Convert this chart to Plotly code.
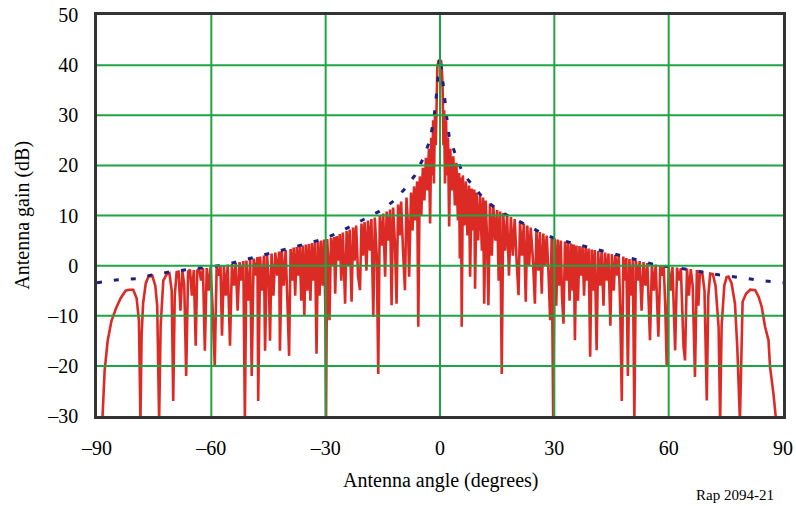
import plotly.graph_objects as go

# ---------------- data ----------------
x_ticks = [-90, -60, -30, 0, 30, 60, 90]
x_tick_text = ["\u201390", "\u201360", "\u201330", "0", "30", "60", "90"]
y_ticks = [-30, -20, -10, 0, 10, 20, 30, 40, 50]
y_tick_text = ["\u201330", "\u201320", "\u201310", "0", "10", "20", "30", "40", "50"]

# blue dashed envelope (angle in degrees, gain in dB)
blue_angle = [-90, -89.2, -84.4, -79.8, -75.2, -70.4, -65.6, -60.8, -56.9, -52.0,
              -47.7, -42.9, -38.8, -34.3, -30.2, -26.1, -22.3, -18.8, -15.5, -11.8,
              -9.4, -6.6, -4.4, -2.6, -1.6, -1.0, -0.5, 0, 0.5, 1.1,
              1.8, 2.4, 4.4, 6.0, 8.9, 11.4, 15.0, 19.1, 22.8, 26.4,
              30.2, 34.3, 38.5, 42.9, 47.7, 52.3, 56.9, 61.7, 66.3, 70.9,
              75.4, 80.0, 84.7, 89.5, 90]
blue_gain = [-3.4, -3.3, -2.8, -2.6, -1.8, -1.2, -0.7, -0.2, 0.1, 1.0,
             1.9, 2.8, 3.6, 4.6, 5.4, 6.8, 8.3, 9.6, 11.0, 13.1,
             15.2, 18.0, 21.4, 25.1, 29.4, 33.6, 38.5, 41.8, 38.5, 33.6,
             29.4, 25.8, 21.4, 18.4, 15.8, 13.4, 11.2, 9.4, 8.1, 6.6,
             5.4, 4.6, 3.7, 2.8, 1.9, 1.0, 0.1, -0.4, -0.9, -1.6,
             -2.1, -2.6, -3.0, -3.4, -3.4]

# red antenna pattern, (angle, gain) samples by region
red_outer_left = [(-88.6, -31), (-88.0, -21), (-87.2, -15), (-86.2, -11), (-85.0, -8.5),
                  (-83.8, -6.5), (-82.5, -5.0), (-81.5, -4.8), (-80.5, -4.8), (-79.6, -6.5),
                  (-79.0, -11), (-78.6, -31), (-78.3, -14), (-77.9, -7.5), (-77.2, -3.5),
                  (-76.5, -2.2), (-75.5, -2.0), (-74.7, -4), (-74.2, -8), (-73.7, -31),
                  (-73.3, -12), (-72.6, -3), (-71.8, -1.8), (-71.0, -1.5), (-70.4, -5),
                  (-70.0, -27), (-69.6, -6), (-69.1, -1.3), (-68.6, -1.2), (-68.1, -9),
                  (-67.6, -1.0), (-67.1, -4), (-66.6, -22), (-66.1, -1.2), (-65.6, -0.8),
                  (-65.1, -6), (-64.6, -0.9), (-64.1, -16), (-63.7, -1.0), (-63.2, -0.6),
                  (-62.7, -3), (-62.2, -0.5), (-61.7, -17), (-61.2, -0.5), (-60.7, -5),
                  (-60.2, -0.3), (-59.7, -8), (-59.1, -20), (-58.6, -0.2), (-58.1, -2),
                  (-57.6, -0.1), (-57.2, -14), (-56.7, 0.0), (-56.2, -6), (-55.7, 0.2),
                  (-55.1, -16), (-54.6, 0.3), (-54.1, -4), (-53.6, 0.5), (-53.1, -9),
                  (-52.6, 0.7), (-52.1, -3)]

red_mid_left = [(-51.6, 0.9), (-51.2, -31), (-50.8, 1.0), (-50.3, -7), (-49.8, 1.2),
                (-49.4, -22), (-48.9, 1.4), (-48.4, -2), (-47.9, 1.7), (-47.7, -27),
                (-47.2, 1.8), (-46.7, -5), (-46.2, 2.0), (-45.9, -17), (-45.4, 2.2),
                (-44.9, -3), (-44.6, -15), (-44.2, 2.4), (-43.7, -6), (-43.2, 2.6),
                (-42.7, -2), (-42.2, 2.8), (-42.0, -17), (-41.5, 2.9), (-41.0, -4),
                (-40.5, 3.1), (-40.0, -8), (-39.6, -18), (-39.2, 3.3), (-38.8, -3),
                (-38.4, 3.6), (-38.0, -6), (-37.6, 3.7), (-37.2, -2), (-36.8, 3.8),
                (-36.4, -7), (-36.0, 4.0), (-35.6, -10), (-35.2, 4.2), (-34.8, -5),
                (-34.4, 4.3), (-34.0, -7), (-33.6, 4.5), (-33.2, -3), (-32.8, 4.7),
                (-32.4, -17.6), (-32.0, 4.8), (-31.6, -6), (-31.2, 5.0), (-30.8, -4),
                (-30.4, 5.2), (-30.1, -8), (-29.9, -31)]

red_center = [(-29.6, 5.3), (-29.2, -1), (-29.0, -10.9), (-28.6, 5.5), (-28.2, 0),
              (-27.8, 5.7), (-27.5, -5.6), (-27.1, 5.9), (-26.7, 1), (-26.3, 6.3),
              (-25.9, -3), (-25.5, 6.6), (-24.9, -7.6), (-24.5, 6.9), (-24.1, 0),
              (-23.7, 7.2), (-23.2, -7.2), (-22.8, 7.6), (-22.4, 1), (-22.0, 8.0),
              (-21.5, -2), (-21.0, -4.9), (-20.6, 8.4), (-20.2, 2), (-19.8, 8.7),
              (-19.3, -1), (-18.9, 9.0), (-18.4, 3), (-18.0, 9.3), (-17.5, -10.2),
              (-17.1, 9.6), (-16.6, 2), (-16.2, -21.6), (-15.8, 10.0), (-15.3, 4),
              (-14.9, 10.4), (-14.4, -2.2), (-14.0, 10.8), (-13.5, 5), (-13.1, 11.2),
              (-12.7, -7.9), (-12.3, 11.6), (-11.8, 4), (-11.4, -7.6), (-11.0, 12.2),
              (-10.6, 6), (-10.2, 12.8), (-9.7, 3), (-9.2, -4.9), (-8.8, 13.6),
              (-8.4, 8), (-8.1, -2.2), (-7.6, 14.6), (-7.2, 7), (-6.8, 15.8),
              (-6.4, 9), (-6.0, 16.8), (-5.7, -12.2), (-5.3, 17.8), (-4.9, 10),
              (-4.5, 19.5), (-4.1, 13), (-3.7, 21.5), (-3.3, 15), (-2.9, 23.3),
              (-2.6, 8.4), (-2.3, 25.5), (-2.0, 18), (-1.8, 29.0), (-1.6, 16.4),
              (-1.3, 31), (-1.1, 24), (-0.9, 36), (-0.7, 39.5), (-0.4, 40.8),
              (0.0, 41.0), (0.3, 40.8), (0.5, 39), (0.7, 35), (0.9, 24),
              (1.1, 31), (1.3, 16.4), (1.6, 29.0), (1.8, 18), (2.1, 25.5),
              (2.4, 7.8), (2.7, 23.3), (3.1, 15), (3.5, 21.8), (3.9, 12),
              (4.3, 20.5), (4.7, 9), (5.0, 18.5), (5.2, 1.4), (5.5, 17.6),
              (5.7, -12.2), (6.0, 18.0), (6.4, 8), (6.8, 16.8), (7.2, 6),
              (7.6, 16.0), (7.9, -2.2), (8.3, 15.4), (8.7, 7), (9.0, 15.2),
              (9.2, -4.6), (9.6, 14.6), (10.0, 5), (10.5, 14.0), (11.0, 3),
              (11.3, 13.6), (11.6, -7.6), (12.0, 13.0), (12.4, 4), (12.7, -7.9),
              (13.1, 12.4), (13.6, 2), (14.0, 11.8), (14.5, 5), (15.0, 11.1),
              (15.4, -3), (15.8, 10.8), (16.2, -21.6), (16.6, 10.5), (17.1, 3),
              (17.6, 10.1), (18.1, -2), (18.6, 9.7), (19.1, 2), (19.6, 9.3),
              (20.1, 1), (20.6, -5.9), (21.0, 8.8), (21.5, 2), (22.0, 8.4),
              (22.5, -7.2), (22.9, 8.0), (23.4, 0), (23.8, 7.6), (24.4, 1),
              (24.9, -7.6), (25.3, 7.0), (25.8, -1), (26.2, 6.7), (26.7, -5.6),
              (27.1, 6.4), (27.6, 0), (28.0, 6.0), (28.5, -2), (28.9, -10.9),
              (29.3, 5.6), (29.7, -31)]

red_mid_right = [(30.1, 5.4), (30.5, -8), (30.9, 5.2), (31.3, -4), (31.7, 5.0),
                 (32.0, -6), (32.4, -11.6), (32.8, 4.8), (33.2, -3), (33.6, 4.6),
                 (34.0, -7), (34.4, 4.4), (34.8, -5), (35.1, 4.2), (35.4, -14.9),
                 (35.8, 4.0), (36.2, -7), (36.6, 3.9), (37.0, -2), (37.4, 3.8),
                 (37.8, -6), (38.2, 3.6), (38.6, -3), (39.0, 3.4), (39.4, -18.2),
                 (39.8, 3.2), (40.2, -5), (40.6, 3.1), (41.1, -16.9), (41.5, 2.9),
                 (42.0, -4), (42.4, 2.8), (42.9, -8), (43.3, 2.6), (43.8, -3),
                 (44.2, 2.4), (44.7, -12), (45.1, 2.3), (45.6, -5), (46.0, 2.1),
                 (46.5, -2), (46.9, 1.9), (47.3, -9), (47.7, -27), (48.1, 1.8),
                 (48.5, -3), (48.9, 1.5), (49.3, -22), (49.7, 1.3), (50.2, -6),
                 (50.6, 1.1), (51.0, -31)]

red_outer_right = [(51.4, 1.0), (51.9, -3), (52.4, 0.9), (52.9, -9), (53.4, 0.7),
                   (53.9, -4), (54.4, 0.5), (55.1, -14.9), (55.6, 0.3), (56.1, -5),
                   (56.6, 0.2), (57.3, -14.2), (57.8, 0.1), (58.3, -2), (58.7, 0.0),
                   (59.1, -8), (59.5, -20.2), (60.0, -0.2), (60.5, -5), (61.0, -0.3),
                   (61.7, -16.9), (62.2, -0.4), (62.7, -3), (63.2, -0.5), (63.9, -16.2),
                   (64.3, -18.9), (64.8, -0.6), (65.3, -6), (65.8, -0.7), (66.3, -4),
                   (66.9, -22.2), (67.4, -0.9), (67.8, -8), (68.2, -1.2), (68.8, -1.3),
                   (69.4, -5), (70.0, -26.9), (70.4, -6), (70.9, -1.6), (71.6, -1.7),
                   (72.3, -4), (73.1, -12.2), (73.5, -31), (73.9, -12), (74.6, -4),
                   (75.2, -2.3), (75.7, -2.2), (76.5, -3.5), (77.4, -7.6), (78.0, -16.2),
                   (78.7, -31), (79.2, -10.2), (79.4, -7.2), (80.3, -5.6), (81.4, -4.8),
                   (82.7, -4.9), (83.6, -6.2), (84.4, -8.2), (85.3, -12.2), (86.2, -14.9),
                   (86.6, -20.2), (87.5, -25.6), (88.2, -31)]

# ---------------- figure ----------------
red_points = red_outer_left + red_mid_left + red_center + red_mid_right + red_outer_right
red_angle = [p[0] for p in red_points]
red_gain = [p[1] for p in red_points]

SERIF = "Liberation Serif, Times New Roman, serif"
GRID = "#1fa444"

fig = go.Figure()
fig.add_trace(go.Scatter(x=red_angle, y=red_gain, mode="lines",
                         line=dict(color="#dc2b25", width=2.6),
                         showlegend=False, hoverinfo="skip"))
fig.add_trace(go.Scatter(x=blue_angle, y=blue_gain, mode="lines",
                         line=dict(color="#1f1f80", width=3, dash="5px,12px"),
                         showlegend=False, hoverinfo="skip"))

# grid lines drawn above the traces, as in the reference
shapes = []
for v in x_ticks[1:-1]:
    shapes.append(dict(type="line", xref="x", yref="y", x0=v, x1=v,
                       y0=y_ticks[0], y1=y_ticks[-1], layer="above",
                       line=dict(color=GRID, width=2)))
for v in y_ticks[1:-1]:
    shapes.append(dict(type="line", xref="x", yref="y", y0=v, y1=v,
                       x0=x_ticks[0], x1=x_ticks[-1], layer="above",
                       line=dict(color=GRID, width=2)))

fig.update_layout(
    width=796, height=506,
    margin=dict(l=97, r=13, t=15, b=90, autoexpand=False),
    paper_bgcolor="white", plot_bgcolor="white",
    shapes=shapes,
    xaxis=dict(range=[-90, 90], tickvals=x_ticks, ticktext=x_tick_text,
               showgrid=False, zeroline=False, showline=True, mirror=True,
               linecolor="#333333", linewidth=2.5, ticks="", automargin=False,
               ticklabelstandoff=12,
               tickfont=dict(family=SERIF, size=20, color="black")),
    yaxis=dict(range=[-30, 50], tickvals=y_ticks, ticktext=y_tick_text,
               showgrid=False, zeroline=False, showline=True, mirror=True,
               linecolor="#333333", linewidth=2.5, ticks="", automargin=False,
               ticklabelstandoff=12,
               tickfont=dict(family=SERIF, size=20, color="black")),
    annotations=[
        dict(text="Antenna angle (degrees)", xref="paper", yref="paper",
             x=0.5, y=-0.162, xanchor="center", yanchor="middle", showarrow=False,
             font=dict(family=SERIF, size=20, color="black")),
        dict(text="Antenna gain (dB)", xref="paper", yref="paper",
             x=-0.109, y=0.5, xanchor="center", yanchor="middle", showarrow=False,
             textangle=-90, font=dict(family=SERIF, size=20, color="black")),
        dict(text="Rap 2094-21", xref="paper", yref="paper",
             x=0.93, y=-0.197, xanchor="center", yanchor="middle", showarrow=False,
             font=dict(family=SERIF, size=15, color="black")),
    ],
)

fig.write_html("out.html")
